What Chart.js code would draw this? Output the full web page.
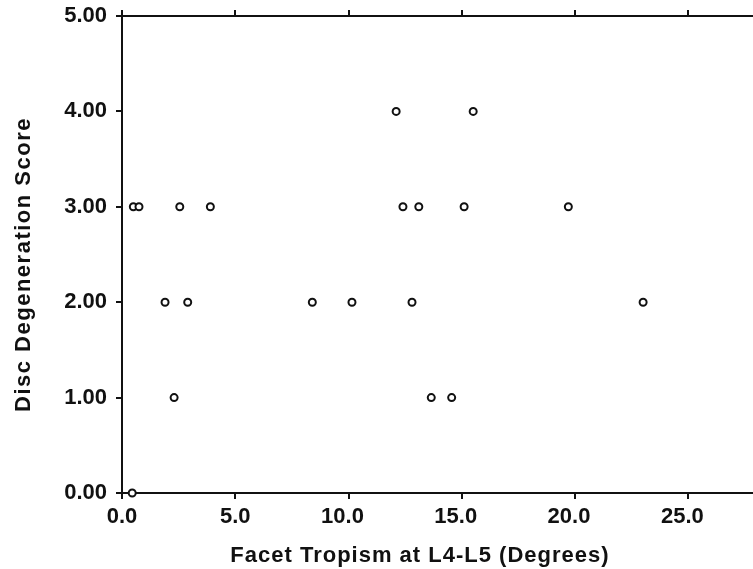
<!DOCTYPE html>
<html lang="en">
<head>
    <meta charset="UTF-8">
    <title>Disc Degeneration vs Facet Tropism</title>
    <style>
        body { margin: 0; background: #fff; }
        #chart { display: block; }
    </style>
</head>
<body>
    <canvas id="chart" width="753" height="569"></canvas>

    <script src="https://cdn.jsdelivr.net/npm/chart.js"></script>
    <script>
        // facet tropism (degrees) and disc degeneration score
        const tropism = [0.45, 2.3, 13.65, 14.55,
                         1.9, 2.9, 8.4, 10.15, 12.8, 23.0,
                         0.5, 0.75, 2.55, 3.9, 12.4, 13.1, 15.1, 19.7,
                         12.1, 15.5];
        const score = [0, 1, 1, 1,
                       2, 2, 2, 2, 2, 2,
                       3, 3, 3, 3, 3, 3, 3, 3,
                       4, 4];
        const xTicks = ['0.0', '5.0', '10.0', '15.0', '20.0', '25.0'];
        const yTicks = ['0.00', '1.00', '2.00', '3.00', '4.00', '5.00'];
        const xTitle = 'Facet Tropism at L4-L5 (Degrees)';
        const yTitle = 'Disc Degeneration Score';

        const FONT = '"Liberation Sans", Arial, sans-serif';
        const INK = '#111';

        // axis titles drawn by hand so they sit where the original put them
        const titles = {
            id: 'titles',
            afterDraw(chart) {
                const ctx = chart.ctx;
                const area = chart.chartArea;
                ctx.save();
                ctx.fillStyle = INK;
                ctx.font = 'bold 22px ' + FONT;
                ctx.textAlign = 'center';
                ctx.textBaseline = 'alphabetic';
                ctx.letterSpacing = '1px';
                ctx.fillText(xTitle, chart.scales.x.getPixelForValue(13.15), 562);
                ctx.letterSpacing = '1.5px';
                ctx.translate(30, (area.top + area.bottom) / 2 + 10);
                ctx.rotate(-Math.PI / 2);
                ctx.fillText(yTitle, 0, 0);
                ctx.restore();
            }
        };

        const points = tropism.map((t, i) => ({ x: t, y: score[i] }));

        new Chart(document.getElementById('chart'), {
            type: 'scatter',
            data: {
                datasets: [{
                    data: points,
                    pointRadius: 3.5,
                    pointBorderWidth: 2,
                    pointBorderColor: INK,
                    pointBackgroundColor: '#fff',
                    clip: false
                }]
            },
            options: {
                responsive: false,
                animation: false,
                layout: { autoPadding: false, padding: 0 },
                plugins: {
                    legend: { display: false },
                    tooltip: { enabled: false }
                },
                scales: {
                    x: {
                        type: 'linear',
                        position: 'bottom',
                        min: 0,
                        max: 27.85,
                        afterFit: s => { s.height = 76; s.paddingLeft = 0; s.paddingRight = 0; },
                        border: { color: INK, width: 2 },
                        grid: { drawOnChartArea: false, color: INK, lineWidth: 2, tickLength: 6 },
                        ticks: {
                            stepSize: 5,
                            includeBounds: false,
                            maxRotation: 0,
                            padding: 5,
                            color: INK,
                            font: { family: FONT, size: 22, weight: 'bold' },
                            // the wider labels sit a little left of their tick in the original
                            callback: v => {
                                const t = xTicks[v / 5];
                                return t && t.length > 3 ? t + '  ' : t;
                            }
                        }
                    },
                    xTop: {
                        type: 'linear',
                        position: 'top',
                        min: 0,
                        max: 27.85,
                        afterFit: s => { s.height = 16; },
                        border: { color: INK, width: 2 },
                        grid: { drawOnChartArea: false, color: INK, lineWidth: 2, tickLength: 6 },
                        ticks: { stepSize: 5, includeBounds: false, display: false }
                    },
                    y: {
                        type: 'linear',
                        min: 0,
                        max: 5,
                        afterFit: s => { s.width = 122; s.paddingTop = 0; s.paddingBottom = 0; },
                        border: { color: INK, width: 2 },
                        grid: { drawOnChartArea: false, color: INK, lineWidth: 2, tickLength: 6 },
                        ticks: {
                            stepSize: 1,
                            padding: 9,
                            color: INK,
                            font: { family: FONT, size: 22, weight: 'bold' },
                            callback: v => yTicks[v]
                        }
                    }
                }
            },
            plugins: [titles]
        });
    </script>
</body>
</html>
